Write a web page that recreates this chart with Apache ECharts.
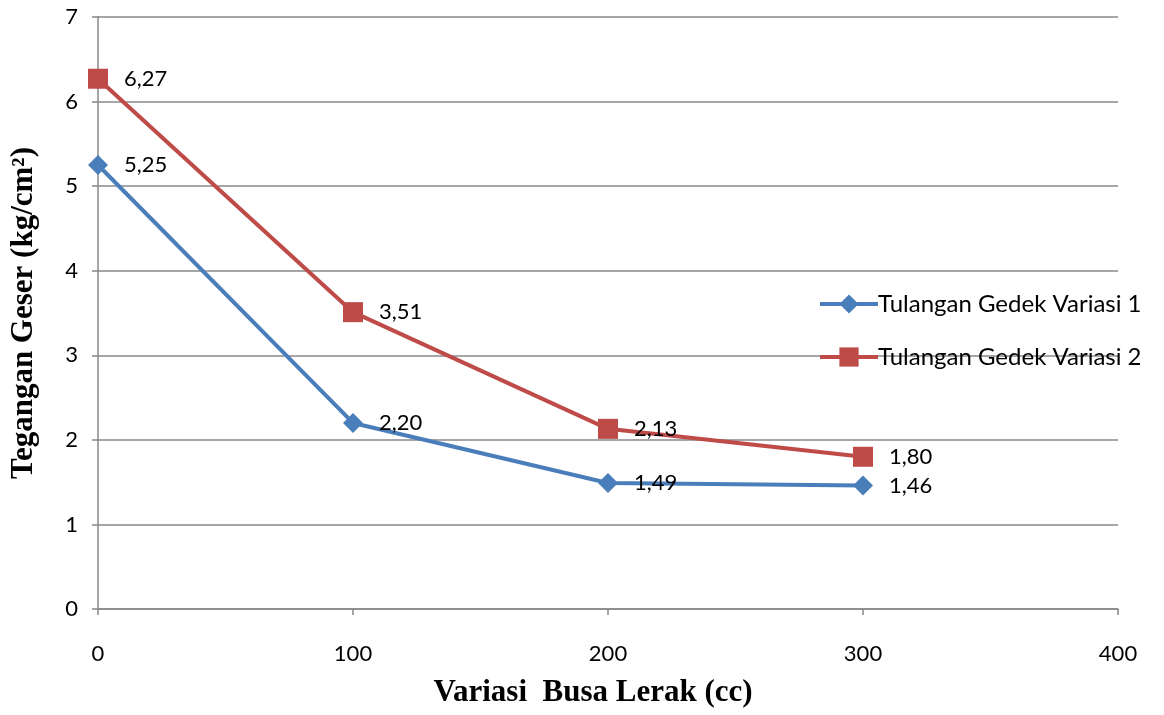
<!DOCTYPE html>
<html>
<head>
<meta charset="utf-8">
<script src="https://cdn.jsdelivr.net/npm/echarts@6/dist/echarts.min.js"></script>
<style>
  html, body { margin: 0; padding: 0; background: #fff; }
  #chart { width: 1164px; height: 715px; }
</style>
</head>
<body>
<div id="chart"></div>
<script>
// Foam volume (cc) on the x axis, shear stress (kg/cm²) on the y axis
const busaLerak = [0, 100, 200, 300];
const variasi1 = [5.25, 2.20, 1.49, 1.46];
const variasi2 = [6.27, 3.51, 2.13, 1.80];
const seriesNames = ['Tulangan Gedek Variasi 1', 'Tulangan Gedek Variasi 2'];

const labelFont = 'Lato, "Open Sans", sans-serif';
const titleFont = '"Liberation Serif", "DejaVu Serif", serif';

function pairs(xs, ys) { return xs.map((x, i) => [x, ys[i]]); }
function fmt(v) { return v.toFixed(2).replace('.', ','); }

const chart = echarts.init(document.getElementById('chart'));
chart.setOption({
  animation: false,
  backgroundColor: '#fff',
  grid: { left: 98, right: 46, top: 17, bottom: 106, containLabel: false },
  legend: {
    orient: 'vertical',
    left: 813, top: 287,
    itemGap: 29,
    itemWidth: 58, itemHeight: 24,
    lineStyle: { width: 4 },
    textStyle: { fontFamily: labelFont, fontSize: 24, color: '#000', padding: [0, 0, 0, -5] },
    data: seriesNames
  },
  xAxis: {
    type: 'value', min: 0, max: 400, interval: 100,
    name: 'Variasi  Busa Lerak (cc)', nameLocation: 'middle', nameGap: 68,
    nameTextStyle: { fontFamily: titleFont, fontWeight: 'bold', fontSize: 31, color: '#000', padding: [0, 30, 0, 0] },
    axisLine: { show: true, lineStyle: { color: '#888', width: 1.5 } },
    axisTick: { show: true, length: 6, lineStyle: { color: '#888', width: 1.5 } },
    axisLabel: { fontFamily: labelFont, fontSize: 22, color: '#000', margin: 34 },
    splitLine: { show: false }
  },
  yAxis: {
    type: 'value', min: 0, max: 7, interval: 1,
    name: 'Tegangan Geser (kg/cm²)', nameLocation: 'middle', nameGap: 59,
    nameTextStyle: { fontFamily: titleFont, fontWeight: 'bold', fontSize: 31, color: '#000' },
    axisLine: { show: true, lineStyle: { color: '#888', width: 1.5 } },
    axisTick: { show: true, length: 6, lineStyle: { color: '#888', width: 1.5 } },
    axisLabel: { fontFamily: labelFont, fontSize: 22, color: '#000', margin: 20 },
    splitLine: { show: true, lineStyle: { color: '#888', width: 1.5 } }
  },
  series: [
    {
      name: seriesNames[0], type: 'line',
      data: pairs(busaLerak, variasi1),
      symbol: 'diamond', symbolSize: 20,
      lineStyle: { color: '#4A7EBB', width: 4 },
      itemStyle: { color: '#4A7EBB' },
      label: {
        show: true, position: 'right', distance: 16,
        fontFamily: labelFont, fontSize: 22, color: '#000',
        formatter: p => fmt(p.value[1])
      },
      z: 3
    },
    {
      name: seriesNames[1], type: 'line',
      data: pairs(busaLerak, variasi2),
      symbol: 'rect', symbolSize: 20,
      lineStyle: { color: '#BE4B48', width: 4 },
      itemStyle: { color: '#BE4B48' },
      label: {
        show: true, position: 'right', distance: 16,
        fontFamily: labelFont, fontSize: 22, color: '#000',
        formatter: p => fmt(p.value[1])
      },
      z: 3
    }
  ]
});
</script>
</body>
</html>
